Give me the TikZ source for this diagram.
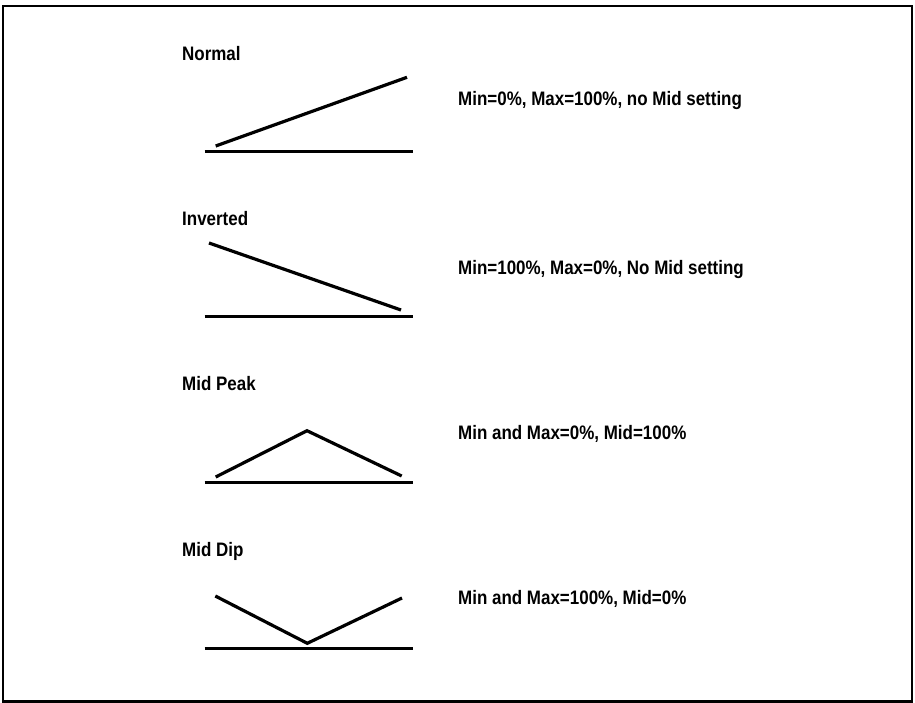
\documentclass[tikz,border=0pt]{standalone}
\usepackage{fontspec}
\setmainfont{Liberation Sans}[FakeStretch=0.87]
\begin{document}
\begin{tikzpicture}[x=1pt,y=-1pt,
  lbl/.style={anchor=base west,inner sep=0pt,font=\fontsize{19.5}{22}\selectfont\bfseries},
  axisline/.style={line width=3.2pt},
  curve/.style={line width=3.2pt,line join=miter}]
\useasboundingbox (0,0) rectangle (915,703);
\draw[line width=2.5pt] (3,6) rectangle (912,701.5);
% Normal
\node[lbl] (tNormal) at (182,60.7) {Normal};
\node[lbl] (dNormal) at (458,106) {Min=0\%, Max=100\%, no Mid setting};
\draw[axisline] (204.5,151.5) -- (413,151.5);
\draw[curve] (215.7,146) -- (407,77.3);
% Inverted
\node[lbl] (tInv) at (182,226) {Inverted};
\node[lbl] (dInv) at (458,274.3) {Min=100\%, Max=0\%, No Mid setting};
\draw[axisline] (204.5,316.7) -- (413,316.7);
\draw[curve] (209,243) -- (401,310);
% Mid Peak
\node[lbl] (tPeak) at (182,390.7) {Mid Peak};
\node[lbl] (dPeak) at (458,439.3) {Min and Max=0\%, Mid=100\%};
\draw[axisline] (204.5,482.5) -- (413,482.5);
\draw[curve] (215.7,477) -- (307,430.7) -- (401.7,476);
% Mid Dip
\node[lbl] (tDip) at (182,556) {Mid Dip};
\node[lbl] (dDip) at (458,604.8) {Min and Max=100\%, Mid=0\%};
\draw[axisline] (204.5,648.3) -- (413,648.3);
\draw[curve] (215.3,596) -- (307.3,643.3) -- (402,598);
\end{tikzpicture}
\end{document}
